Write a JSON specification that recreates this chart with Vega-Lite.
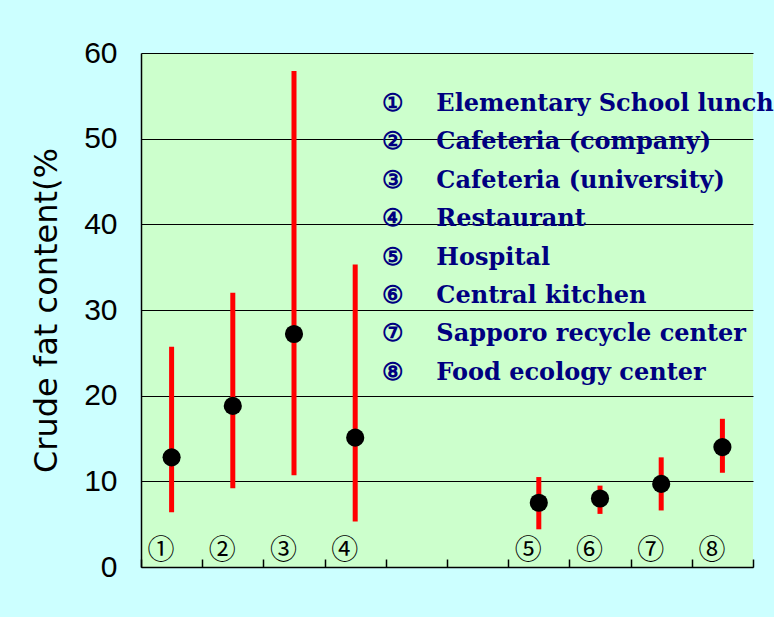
{
  "$schema": "https://vega.github.io/schema/vega-lite/v6.json",
  "width": 612,
  "height": 514,
  "autosize": {"type": "none"},
  "padding": {"left": 141, "top": 53, "right": 21, "bottom": 50},
  "background": "#ccffff",
  "config": {"view": {"fill": "#ccffcc", "stroke": null}},
  "data": {
    "values": [
      {"num": "①", "name": "Elementary School lunch", "mean": 12.8, "lo": 6.4, "hi": 25.7},
      {"num": "②", "name": "Cafeteria (company)", "mean": 18.8, "lo": 9.2, "hi": 32.0},
      {"num": "③", "name": "Cafeteria (university)", "mean": 27.2, "lo": 10.7, "hi": 57.9},
      {"num": "④", "name": "Restaurant", "mean": 15.1, "lo": 5.3, "hi": 35.3},
      {"num": "⑤", "name": "Hospital", "mean": 7.5, "lo": 4.4, "hi": 10.5},
      {"num": "⑥", "name": "Central kitchen", "mean": 8.0, "lo": 6.2, "hi": 9.5},
      {"num": "⑦", "name": "Sapporo recycle center", "mean": 9.7, "lo": 6.6, "hi": 12.8},
      {"num": "⑧", "name": "Food ecology center", "mean": 14.0, "lo": 11.0, "hi": 17.3}
    ]
  },
  "encoding": {
    "x": {
      "field": "num",
      "type": "nominal",
      "scale": {"domain": ["①", "②", "③", "④", "gap1", "gap2", "⑤", "⑥", "⑦", "⑧"], "paddingInner": 0, "paddingOuter": 0},
      "axis": {
        "title": null,
        "grid": false,
        "tickBand": "extent",
        "tickSize": -8,
        "tickColor": "black",
        "tickWidth": 1.5,
        "domainColor": "black",
        "domainWidth": 1.5,
        "labelFont": "Noto Sans CJK JP",
        "labelFontSize": 27,
        "labelColor": "black",
        "labelAngle": 0,
        "labelBaseline": "middle",
        "labelPadding": -9,
        "labelOffset": -11,
        "labelExpr": "length(datum.label) > 1 ? '' : datum.label"
      }
    }
  },
  "layer": [
    {
      "mark": {"type": "rule", "color": "#ff0000", "strokeWidth": 5},
      "encoding": {
        "y": {
          "field": "lo",
          "type": "quantitative",
          "scale": {"domain": [0, 60], "nice": false, "zero": true},
          "axis": {
            "title": "Crude fat content(%",
            "values": [0, 10, 20, 30, 40, 50, 60],
            "grid": true,
            "gridColor": "black",
            "gridOpacity": 1,
            "gridWidth": 1,
            "ticks": false,
            "domainColor": "black",
            "domainWidth": 1.5,
            "labelFont": "Liberation Sans",
            "labelFontSize": 30,
            "labelColor": "black",
            "labelPadding": 24,
            "labelFlush": false,
            "labelOverlap": false,
            "titleFont": "DejaVu Sans",
            "titleFontSize": 32,
            "titleFontWeight": "normal",
            "titleColor": "black",
            "titlePadding": 20
          }
        },
        "y2": {"field": "hi"}
      }
    },
    {
      "mark": {"type": "point", "filled": true, "size": 330, "opacity": 1},
      "encoding": {
        "y": {
          "field": "mean",
          "type": "quantitative",
          "axis": {
            "title": "Crude fat content(%",
            "values": [0, 10, 20, 30, 40, 50, 60],
            "grid": true,
            "gridColor": "black",
            "gridOpacity": 1,
            "gridWidth": 1,
            "ticks": false,
            "domainColor": "black",
            "domainWidth": 1.5,
            "labelFont": "Liberation Sans",
            "labelFontSize": 30,
            "labelColor": "black",
            "labelPadding": 24,
            "labelFlush": false,
            "labelOverlap": false,
            "titleFont": "DejaVu Sans",
            "titleFontSize": 32,
            "titleFontWeight": "normal",
            "titleColor": "black",
            "titlePadding": 20
          }
        },
        "color": {
          "field": "name",
          "type": "nominal",
          "sort": null,
          "scale": {"range": ["#000000"]},
          "legend": {
            "orient": "none",
            "legendX": 217,
            "legendY": 39,
            "title": null,
            "padding": 0,
            "symbolSize": 0,
            "symbolOpacity": 0,
            "symbolStrokeWidth": 0,
            "labelOffset": 0,
            "rowPadding": 14.4,
            "labelFont": "DejaVu Serif",
            "labelFontSize": 24,
            "labelFontWeight": "bold",
            "labelColor": "#000080",
            "labelLimit": 0,
            "labelExpr": "{'Elementary School lunch': '①', 'Cafeteria (company)': '②', 'Cafeteria (university)': '③', 'Restaurant': '④', 'Hospital': '⑤', 'Central kitchen': '⑥', 'Sapporo recycle center': '⑦', 'Food ecology center': '⑧'}[datum.label] + '\u2003 ' + datum.label"
          }
        }
      }
    }
  ]
}
